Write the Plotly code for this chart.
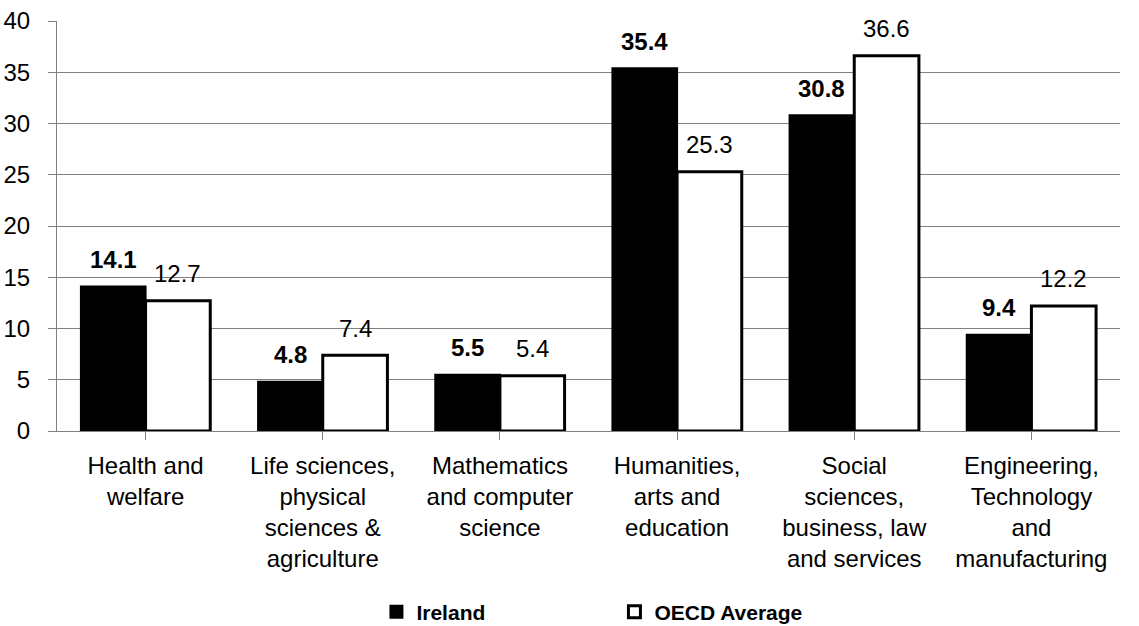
import plotly.graph_objects as go

categories = [
    "Health and<br>welfare",
    "Life sciences,<br>physical<br>sciences &<br>agriculture",
    "Mathematics<br>and computer<br>science",
    "Humanities,<br>arts and<br>education",
    "Social<br>sciences,<br>business, law<br>and services",
    "Engineering,<br>Technology<br>and<br>manufacturing",
]
ireland = [14.1, 4.8, 5.5, 35.4, 30.8, 9.4]
oecd = [12.7, 7.4, 5.4, 25.3, 36.6, 12.2]
y_ticks = [0, 5, 10, 15, 20, 25, 30, 35, 40]

FONT = "Liberation Sans, Arial, sans-serif"
BARGAP = 0.27
half = (1 - BARGAP) / 4  # offset of each bar centre from category centre

W, H = 1139, 626

fig = go.Figure()
fig.add_trace(go.Bar(
    name="Ireland", x=list(range(len(categories))), y=ireland,
    marker=dict(color="black", line=dict(color="black", width=2)),
))
fig.add_trace(go.Bar(
    name="OECD Average", x=list(range(len(categories))), y=oecd,
    marker=dict(color="white", line=dict(color="black", width=3)),
))

annotations = []
for i, v in enumerate(ireland):
    annotations.append(dict(x=i - half, y=v, xref="x", yref="y", text=f"<b>{v:.1f}</b>",
                            showarrow=False, yshift=27, font=dict(size=24, color="black", family=FONT)))
for i, v in enumerate(oecd):
    annotations.append(dict(x=i + half, y=v, xref="x", yref="y", text=f"{v:.1f}",
                            showarrow=False, yshift=27, font=dict(size=24, color="black", family=FONT)))

fig.update_layout(
    width=W, height=H,
    margin=dict(l=57, r=19, t=21, b=195, autoexpand=False),
    paper_bgcolor="white", plot_bgcolor="white",
    barmode="group", bargap=BARGAP, bargroupgap=0,
    font=dict(family=FONT, size=24, color="black"),
    showlegend=True,
    legend=dict(orientation="h", x=0.5244, xanchor="center", xref="paper",
                y=14 / H, yref="container", yanchor="middle",
                font=dict(size=21, family=FONT, weight="bold"),
                entrywidth=193, entrywidthmode="pixels", itemwidth=30),
    annotations=annotations,
)
fig.update_xaxes(
    tickmode="array", tickvals=list(range(len(categories))), ticktext=categories,
    range=[-0.5, len(categories) - 0.5], automargin=False,
    showline=True, linecolor="#808080", linewidth=1,
    ticks="outside", ticklen=8, tickcolor="#808080", tickson="boundaries",
    showgrid=False, tickfont=dict(size=24), ticklabelstandoff=5,
)
fig.update_yaxes(
    range=[0, 40], tickmode="array", tickvals=y_ticks, automargin=False,
    showline=True, linecolor="#808080", linewidth=1,
    ticks="outside", ticklen=8, tickcolor="#808080",
    showgrid=True, gridcolor="#808080", gridwidth=1, ticklabeloverflow="allow",
    tickfont=dict(size=24), ticklabelstandoff=13, zeroline=False,
)
fig.write_html("out.html", config={"displayModeBar": False},
               post_script="document.body.style.margin='0';")
